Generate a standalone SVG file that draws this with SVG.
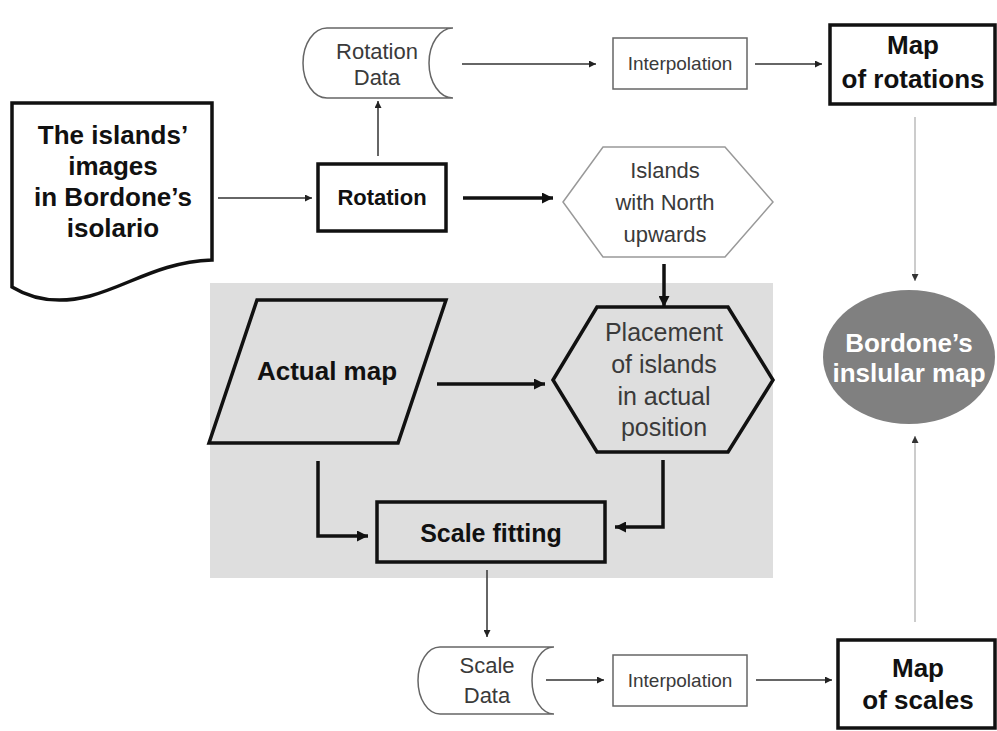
<svg xmlns="http://www.w3.org/2000/svg" width="997" height="731" viewBox="0 0 997 731">
<defs>
<marker id="ah" viewBox="0 0 10 10" refX="10" refY="5" markerWidth="9" markerHeight="7" orient="auto" markerUnits="userSpaceOnUse"><path d="M0,0 L10,5 L0,10 z" fill="#222"/></marker>
<marker id="ahk" viewBox="0 0 10 10" refX="10" refY="5" markerWidth="14" markerHeight="11" orient="auto" markerUnits="userSpaceOnUse"><path d="M0,0 L10,5 L0,10 z" fill="#111"/></marker>
<marker id="ahg" viewBox="0 0 10 10" refX="10" refY="5" markerWidth="8" markerHeight="7" orient="auto" markerUnits="userSpaceOnUse"><path d="M0,0 L10,5 L0,10 z" fill="#333"/></marker>
</defs>
<style>
.b{font-family:"Liberation Sans",Arial,sans-serif;font-weight:bold;fill:#111;text-anchor:middle}
.w{font-family:"Liberation Sans",Arial,sans-serif;font-weight:bold;fill:#fff;text-anchor:middle}
.n{font-family:"Liberation Sans",Arial,sans-serif;fill:#3a3a3a;text-anchor:middle}
.thick{fill:none;stroke:#111;stroke-width:3.5}
.thin{fill:none;stroke:#666;stroke-width:1.5}
.c1{fill:none;stroke:#333;stroke-width:1.5;marker-end:url(#ah)}
.c2{fill:none;stroke:#111;stroke-width:3.5;marker-end:url(#ahk)}
.c3{fill:none;stroke:#aaa;stroke-width:1.2;marker-end:url(#ahg)}
</style>
<rect x="210" y="283" width="563" height="295" fill="#dedede"/>
<g id="doc">
<path class="thick" d="M12,103 H212 V260 C160,262 130,285 90,296 C55,305 30,298 12,287 Z" fill="#fff"/>
<text class="b" font-size="26" x="113" y="144">The islands’</text>
<text class="b" font-size="26" x="113" y="175">images</text>
<text class="b" font-size="26" x="113" y="206">in Bordone’s</text>
<text class="b" font-size="26" x="113" y="237">isolario</text>
</g>
<g id="rotation">
<rect class="thick" x="318" y="164" width="128" height="67" fill="#fff" stroke-width="3"/>
<text class="b" font-size="22" x="382" y="205">Rotation</text>
</g>
<g id="rotation-data">
<path class="thin" d="M327,28 H453 A24,35 0 0 0 453,98 H327 A24,35 0 0 1 327,28 Z" fill="#fff"/>
<text class="n" font-size="22" x="377" y="59">Rotation</text>
<text class="n" font-size="22" x="377" y="85">Data</text>
</g>
<g id="interp-top">
<rect class="thin" x="613" y="38" width="134" height="51" fill="#fff"/>
<text class="n" font-size="19" x="680" y="70">Interpolation</text>
</g>
<g id="map-rotations">
<rect class="thick" x="830" y="25" width="165" height="79" fill="#fff"/>
<text class="b" font-size="26" x="913" y="54">Map</text>
<text class="b" font-size="26" x="913" y="88">of rotations</text>
</g>
<g id="islands-north">
<path d="M563,202 L603,147 H725 L773,202 L725,257 H603 Z" fill="#fff" stroke="#999" stroke-width="1.5"/>
<text class="n" font-size="22" x="665" y="178">Islands</text>
<text class="n" font-size="22" x="665" y="210">with North</text>
<text class="n" font-size="22" x="665" y="242">upwards</text>
</g>
<g id="actual-map">
<path class="thick" d="M257,300 H446 L398,443 H209 Z" stroke-width="3"/>
<text class="b" font-size="26" x="327" y="380">Actual map</text>
</g>
<g id="placement">
<path class="thick" d="M553,380 L597,307 H728 L773,380 L728,452 H597 Z" stroke-width="3"/>
<text class="n" font-size="25" x="664" y="341">Placement</text>
<text class="n" font-size="25" x="664" y="373">of islands</text>
<text class="n" font-size="25" x="664" y="405">in actual</text>
<text class="n" font-size="25" x="664" y="436">position</text>
</g>
<g id="scale-fitting">
<rect class="thick" x="377" y="502" width="228" height="60" stroke-width="3"/>
<text class="b" font-size="25" x="491" y="542">Scale fitting</text>
</g>
<g id="scale-data">
<path class="thin" d="M440,647 H554 A22,33.5 0 0 0 554,714 H440 A22,33.5 0 0 1 440,647 Z" fill="#fff"/>
<text class="n" font-size="22" x="487" y="673">Scale</text>
<text class="n" font-size="22" x="487" y="703">Data</text>
</g>
<g id="interp-bottom">
<rect class="thin" x="613" y="655" width="134" height="51" fill="#fff"/>
<text class="n" font-size="19" x="680" y="687">Interpolation</text>
</g>
<g id="map-scales">
<rect class="thick" x="838" y="640" width="157" height="88" fill="#fff"/>
<text class="b" font-size="26" x="918" y="677">Map</text>
<text class="b" font-size="26" x="918" y="709">of scales</text>
</g>
<g id="bordone-map">
<ellipse cx="909" cy="357" rx="86" ry="67" fill="#808080"/>
<text class="w" font-size="26" x="909" y="352">Bordone’s</text>
<text class="w" font-size="26" x="909" y="382">inslular map</text>
</g>
<g id="connectors">
<line class="c1" x1="218" y1="198" x2="312" y2="198"/>
<line class="c1" x1="378" y1="156" x2="378" y2="101"/>
<line class="c1" x1="462" y1="64" x2="596" y2="64"/>
<line class="c1" x1="755" y1="64" x2="822" y2="64"/>
<line class="c2" x1="463" y1="198" x2="553" y2="198"/>
<line class="c2" x1="664" y1="264" x2="664" y2="307"/>
<line class="c2" x1="437" y1="384" x2="545" y2="384"/>
<path class="c2" d="M318,461 V536 H368"/>
<path class="c2" d="M663,460 V527 H615"/>
<line class="c1" x1="487" y1="570" x2="487" y2="637"/>
<line class="c1" x1="546" y1="680" x2="604" y2="680"/>
<line class="c1" x1="756" y1="680" x2="832" y2="680"/>
<line class="c3" x1="915" y1="117" x2="915" y2="281"/>
<line class="c3" x1="915" y1="622" x2="915" y2="436"/>
</g>
</svg>
